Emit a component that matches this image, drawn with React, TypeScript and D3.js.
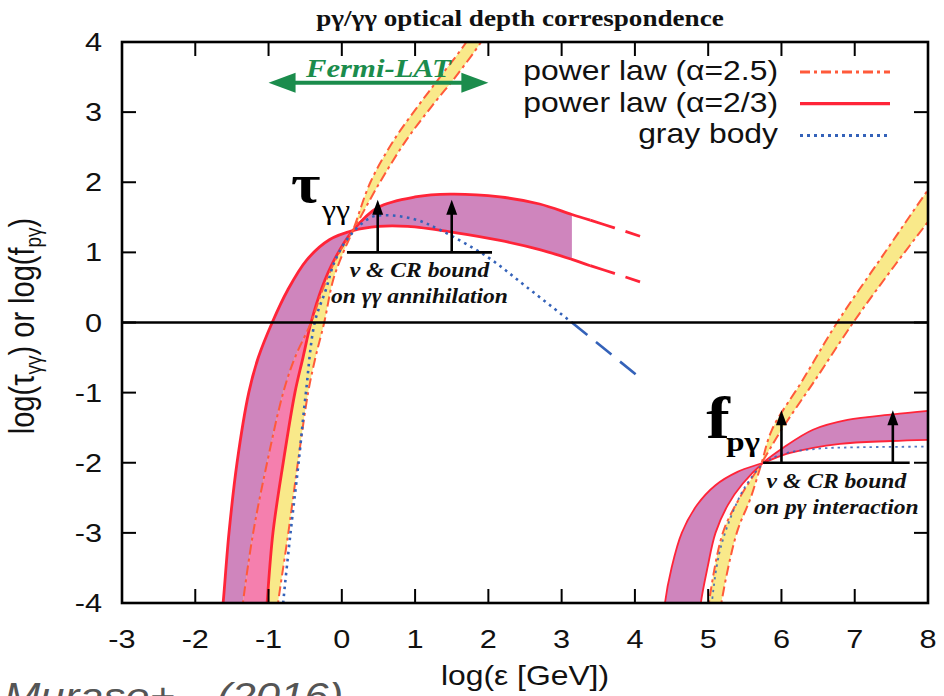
import React from 'react';
import * as d3 from 'd3';

type Pt = [number, number];

// axis ticks
const xTicks = [-3, -2, -1, 0, 1, 2, 3, 4, 5, 6, 7, 8];
const yTicks = [-4, -3, -2, -1, 0, 1, 2, 3, 4];

// gamma-gamma, power law alpha=2/3 (band edges, solid red)
const ggA: Pt[] = [[-1.65, -4.3], [-1.62, -4], [-1.54, -3], [-1.43, -2], [-1.27, -1], [-1.14, -0.5], [-0.95, 0], [-0.74, 0.46], [-0.48, 0.89], [-0.17, 1.18], [0.15, 1.31], [0.5, 1.37], [0.9, 1.37], [1.5, 1.29], [2.16, 1.17], [2.7, 1.04], [3.14, 0.9], [3.39, 0.81]];
const ggB: Pt[] = [[-1.04, -4.3], [-1.02, -4], [-0.94, -3], [-0.8, -2], [-0.64, -1], [-0.53, -0.5], [-0.42, 0], [-0.27, 0.5], [-0.1, 0.9], [0.15, 1.31], [0.49, 1.64], [1.0, 1.79], [1.48, 1.83], [2.16, 1.79], [2.7, 1.69], [3.14, 1.54], [3.39, 1.46]];
const ggAExt: Pt[] = [[3.39, 0.81], [3.72, 0.7], [4.07, 0.58]];
const ggBExt: Pt[] = [[3.39, 1.46], [3.72, 1.35], [4.07, 1.23]];
const ggFillEnd = 3.14;

// gamma-gamma, power law alpha=2.5 (dash-dot)
const ggC: Pt[] = [[-1.37, -4.2], [-1.35, -4], [-1.21, -3], [-1.02, -2], [-0.8, -1], [-0.64, -0.5], [-0.42, 0], [-0.25, 0.5], [-0.05, 0.97], [0.15, 1.31], [0.52, 2.0], [0.88, 2.6], [1.24, 3.1], [1.55, 3.5], [1.9, 4.0], [1.98, 4.15]];
const ggD: Pt[] = [[-0.89, -4.2], [-0.87, -4], [-0.73, -3], [-0.6, -2], [-0.46, -1], [-0.36, -0.5], [-0.24, 0], [-0.12, 0.6], [0.02, 1.0], [0.15, 1.31], [0.39, 2.0], [0.71, 2.6], [1.05, 3.1], [1.34, 3.5], [1.7, 4.0], [1.78, 4.15]];

// gamma-gamma, gray body
const ggGray: Pt[] = [[-0.82, -4.3], [-0.8, -4], [-0.7, -3], [-0.59, -2], [-0.49, -1], [-0.37, 0], [-0.22, 0.46], [-0.09, 0.89], [0.12, 1.25], [0.4, 1.5], [0.62, 1.53], [1.0, 1.47], [1.34, 1.32], [1.98, 0.94], [2.53, 0.5], [3.14, 0.0]];
const ggGrayExt: Pt[] = [[3.14, 0.0], [3.6, -0.39], [4.07, -0.79]];

// p-gamma, power law alpha=2/3
const pgE: Pt[] = [[4.39, -4.3], [4.41, -4], [4.5, -3.5], [4.64, -3.0], [4.85, -2.6], [5.1, -2.32], [5.4, -2.13], [5.75, -2.0], [6.12, -1.86], [6.8, -1.73], [7.5, -1.69], [8.1, -1.67]];
const pgF: Pt[] = [[4.88, -4.3], [4.9, -4], [4.99, -3.5], [5.1, -3.0], [5.27, -2.6], [5.47, -2.3], [5.75, -2.0], [6.02, -1.79], [6.43, -1.53], [6.9, -1.39], [7.52, -1.31], [8.1, -1.25]];

// p-gamma, power law alpha=2.5
const pgG: Pt[] = [[4.99, -4.2], [5.01, -4], [5.2, -3], [5.43, -2.5], [5.73, -2.0], [6.0, -1.53], [6.46, -0.82], [6.98, 0], [7.55, 0.82], [8.1, 1.57]];
const pgH: Pt[] = [[5.16, -4.2], [5.18, -4], [5.39, -3], [5.58, -2.5], [5.73, -2.0], [5.87, -1.53], [6.29, -0.82], [6.76, 0], [7.38, 0.95], [8.0, 1.89], [8.08, 2.0]];

// p-gamma, gray body
const pgGray: Pt[] = [[5.03, -4.3], [5.05, -4], [5.15, -3.3], [5.3, -2.8], [5.5, -2.35], [5.75, -2.02], [6.0, -1.88], [6.5, -1.8], [7.0, -1.78], [8.1, -1.77]];

// annotations
const fermiRange = [-1, 2];
const fermiY = 3.42;
const ggBound = { x0: 0.07, x1: 2.05, y: 1.0, arrows: [0.49, 1.5], tip: 1.75 };
const pgBound = { x0: 5.75, x1: 7.75, y: -2.0, arrows: [6.0, 7.52], tip: -1.25 };

const W = 944, H = 696;
const SX = 1.18;
const SANS = '"Liberation Sans", Arial, sans-serif';
const SERIF = '"Liberation Serif", "Times New Roman", serif';
const RED = '#ff2438';
const DASHDOT = '#ff5a3a';
const BLUE = '#3462b9';
const PURPLE = '#cf85bd';
const PINK = '#f57fae';
const YELLOW = '#f9e98a';
const GREEN = '#1b8c4c';

const legend = [
  { label: 'power law (\u03b1=2.5)', color: DASHDOT, dash: '10,4,3,4', w: 3 },
  { label: 'power law (\u03b1=2/3)', color: RED, dash: null, w: 3.2 },
  { label: 'gray body', color: BLUE, dash: '3,4', w: 3 },
];

const App = () => {
  const x = d3.scaleLinear().domain([-3, 8]).range([122, 928]);
  const y = d3.scaleLinear().domain([-4, 4]).range([603, 42]);

  const line = d3.line<Pt>().x(d => x(d[0])).y(d => y(d[1])).curve(d3.curveCatmullRom.alpha(0.5));
  const band = (a: Pt[], b: Pt[]) => {
    const p1 = line(a) || '';
    const p2 = (line([...b].reverse()) || '').replace(/^M/, 'L');
    return p1 + p2 + 'Z';
  };

  const cut = (pts: Pt[], f: (p: Pt) => boolean) => pts.filter(f);
  const purpleGG = band(cut(ggA, p => p[0] <= ggFillEnd), cut(ggB, p => p[0] <= ggFillEnd));
  const pinkGG = band(cut(ggC, p => p[1] <= 0), cut(ggB, p => p[1] <= 0));

  const tx = (px: number, py: number) => `translate(${px},${py}) scale(${SX},1)`;

  const arrowUp = (ax: number, b: { y: number; tip: number }, key: string) => {
    const xx = x(ax), y0 = y(b.y), yt = y(b.tip);
    return (
      <g key={key}>
        <line x1={xx} x2={xx} y1={y0} y2={yt + 12} stroke="#000" strokeWidth={2.6} />
        <path d={`M${xx},${yt}L${xx - 5.5},${yt + 15}L${xx + 5.5},${yt + 15}Z`} fill="#000" />
      </g>
    );
  };

  const fx0 = x(fermiRange[0]), fx1 = x(fermiRange[1]), fy = y(fermiY);

  return (
    <svg width={W} height={H} style={{ position: 'absolute', left: 0, top: 0, background: '#fff' }}>
      <defs>
        <clipPath id="plot">
          <rect x={122} y={42} width={806} height={561} />
        </clipPath>
      </defs>
      <rect width={W} height={H} fill="#fff" />

      <g clipPath="url(#plot)">
        <path d={purpleGG} fill={PURPLE} />
        <path d={band(pgE, pgF)} fill={PURPLE} />
        <path d={band(ggC, ggD)} fill={YELLOW} />
        <path d={band(pgG, pgH)} fill={YELLOW} />
        <path d={pinkGG} fill={PINK} />

        {[ggA, ggB].map((c, i) => <path key={'gs' + i} d={line(c) || ''} fill="none" stroke={RED} strokeWidth={2.8} />)}
        {[ggAExt, ggBExt].map((c, i) => <path key={'ge' + i} d={line(c) || ''} fill="none" stroke={RED} strokeWidth={2.8} strokeDasharray="26,11" />)}
        {[pgE, pgF].map((c, i) => <path key={'ps' + i} d={line(c) || ''} fill="none" stroke={RED} strokeWidth={1.8} />)}
        {[ggC, ggD, pgG, pgH].map((c, i) => <path key={'dd' + i} d={line(c) || ''} fill="none" stroke={DASHDOT} strokeWidth={2} strokeDasharray="10,4,3,4" />)}
        <path d={line(ggGray) || ''} fill="none" stroke={BLUE} strokeWidth={2.6} strokeDasharray="2.6,4.4" />
        <path d={line(ggGrayExt) || ''} fill="none" stroke={BLUE} strokeWidth={2.6} strokeDasharray="20,11" />
        <path d={line(pgGray) || ''} fill="none" stroke={BLUE} strokeWidth={1.8} strokeDasharray="2.4,4" opacity={0.85} />

        <line x1={x(-3)} x2={x(8)} y1={y(0)} y2={y(0)} stroke="#000" strokeWidth={2.6} />
      </g>

      {/* bound annotations */}
      {[ggBound, pgBound].map((b, i) => (
        <g key={'b' + i}>
          <line x1={x(b.x0)} x2={x(b.x1)} y1={y(b.y)} y2={y(b.y)} stroke="#000" strokeWidth={2.6} />
          {b.arrows.map((a, j) => arrowUp(a, b, `a${i}${j}`))}
          <text transform={tx(x((b.x0 + b.x1) / 2), y(b.y) + 25)} textAnchor="middle" fontFamily={SERIF} fontWeight="bold" fontStyle="italic" fontSize={20} fill="#111">{'\u03bd & CR bound'}</text>
          <text transform={tx(x((b.x0 + b.x1) / 2), y(b.y) + 51)} textAnchor="middle" fontFamily={SERIF} fontWeight="bold" fontStyle="italic" fontSize={20} fill="#111">{i === 0 ? 'on \u03b3\u03b3 annihilation' : 'on p\u03b3 interaction'}</text>
        </g>
      ))}

      <text transform={tx(x(ggBound.x0) - 56, y(ggBound.y) - 50)} fontFamily={SERIF} fontWeight="bold" fontSize={54} fill="#000">{'\u03c4'}</text>
      <text transform={tx(x(ggBound.x0) - 25, y(ggBound.y) - 33)} fontFamily={SERIF} fontSize={27} fill="#000">{'\u03b3\u03b3'}</text>
      <text transform={tx(x(pgBound.x0) - 57, y(pgBound.y) - 25)} fontFamily={SERIF} fontWeight="bold" fontSize={60} fill="#000">f</text>
      <text transform={tx(x(pgBound.x0) - 37, y(pgBound.y) - 12)} fontFamily={SERIF} fontWeight="bold" fontSize={28} fill="#000">{'p\u03b3'}</text>

      {/* Fermi-LAT range */}
      <g>
        <line x1={fx0 + 20} x2={fx1 - 20} y1={fy} y2={fy} stroke={GREEN} strokeWidth={4} />
        <path d={`M${fx0},${fy}L${fx0 + 27},${fy - 10}L${fx0 + 27},${fy + 10}Z`} fill={GREEN} />
        <path d={`M${fx1},${fy}L${fx1 - 27},${fy - 10}L${fx1 - 27},${fy + 10}Z`} fill={GREEN} />
        <text transform={tx((fx0 + fx1) / 2, fy - 6)} textAnchor="middle" fontFamily={SERIF} fontWeight="bold" fontStyle="italic" fontSize={26} fill={GREEN}>Fermi-LAT</text>
      </g>

      {/* frame and ticks */}
      <rect x={122} y={42} width={806} height={561} fill="none" stroke="#000" strokeWidth={2.6} />
      {xTicks.map(v => (
        <g key={'xt' + v}>
          <line x1={x(v)} x2={x(v)} y1={603} y2={589} stroke="#000" strokeWidth={2} />
          <line x1={x(v)} x2={x(v)} y1={42} y2={56} stroke="#000" strokeWidth={2} />
          <text transform={tx(x(v), 648)} textAnchor="middle" fontFamily={SANS} fontSize={26} fill="#111">{v}</text>
        </g>
      ))}
      {yTicks.map(v => (
        <g key={'yt' + v}>
          <line x1={122} x2={136} y1={y(v)} y2={y(v)} stroke="#000" strokeWidth={2} />
          <line x1={928} x2={914} y1={y(v)} y2={y(v)} stroke="#000" strokeWidth={2} />
          <text transform={tx(102, y(v) + 9)} textAnchor="end" fontFamily={SANS} fontSize={26} fill="#111">{v}</text>
        </g>
      ))}

      {/* titles */}
      <text transform={tx(520, 26)} textAnchor="middle" fontFamily={SERIF} fontWeight="bold" fontSize={23} fill="#111">{'p\u03b3/\u03b3\u03b3 optical depth correspondence'}</text>
      <text transform={tx(525, 685)} textAnchor="middle" fontFamily={SANS} fontSize={27} fill="#111">{'log(\u03b5 [GeV])'}</text>
      <text transform={`translate(34,326) rotate(-90) scale(1,${SX})`} textAnchor="middle" fontFamily={SANS} fontSize={29} fill="#111">
        {'log(\u03c4'}<tspan fontSize={19} dy={6}>{'\u03b3\u03b3'}</tspan><tspan dy={-6}>{') or log(f'}</tspan><tspan fontSize={19} dy={6}>{'p\u03b3'}</tspan><tspan dy={-6}>)</tspan>
      </text>

      {/* legend */}
      {legend.map((l, i) => {
        const ly = 72 + i * 31.7;
        return (
          <g key={'lg' + i}>
            <text transform={tx(778, ly + 8)} textAnchor="end" fontFamily={SANS} fontSize={27} fill="#111">{l.label}</text>
            <line x1={800} x2={890} y1={ly} y2={ly} stroke={l.color} strokeWidth={l.w} strokeDasharray={l.dash || undefined} />
          </g>
        );
      })}

      {/* citation, cut by the bottom edge as in the source */}
      <text transform={tx(4, 709)} fontFamily={SANS} fontStyle="italic" fontSize={37} fill="#555">Murase+</text>
      <text transform={tx(217, 709)} fontFamily={SANS} fontStyle="italic" fontSize={37} fill="#555">(2016)</text>
    </svg>
  );
};

export default App;
